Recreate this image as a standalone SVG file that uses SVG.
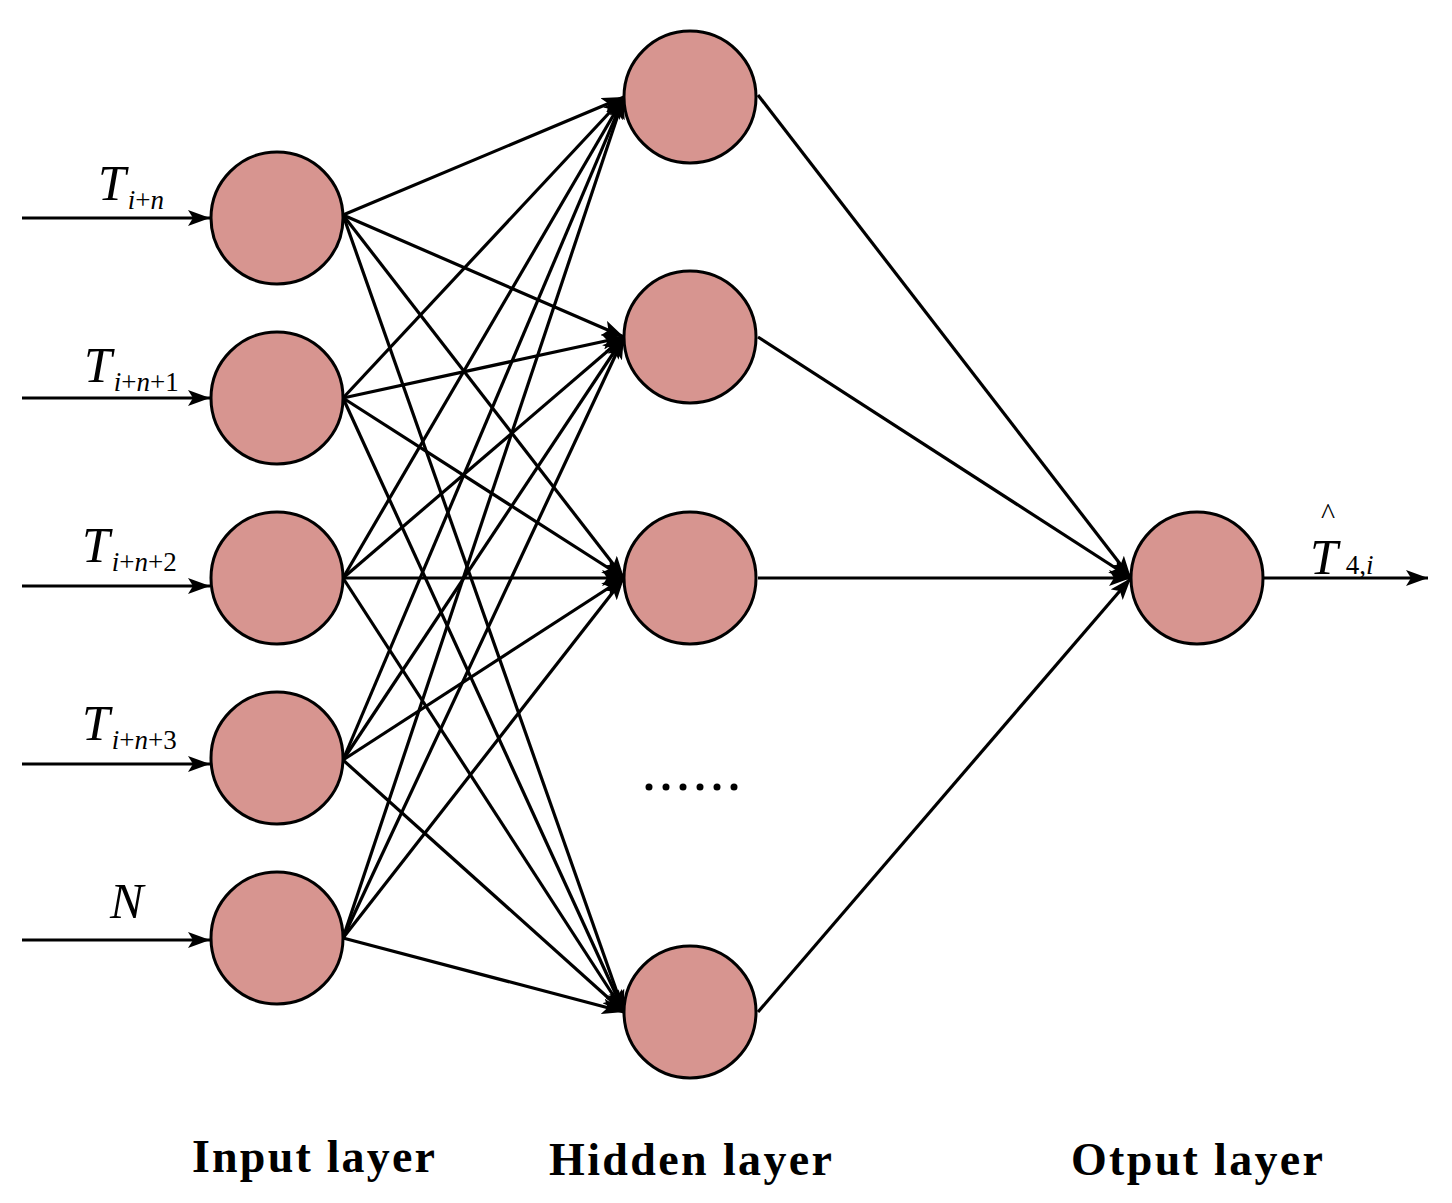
<svg xmlns="http://www.w3.org/2000/svg" width="1452" height="1203" viewBox="0 0 1452 1203">
<style>
.n{fill:#d79590;stroke:#000;stroke-width:3}
.e{stroke:#000;stroke-width:3.2;fill:none;marker-end:url(#a)}
.t{font-family:"Liberation Serif",serif;font-style:italic;font-size:50px}
.s{font-size:27px}
.b{font-family:"Liberation Serif",serif;font-weight:bold;font-size:46px}
</style>
<defs><marker id="a" markerWidth="24" markerHeight="16" refX="22" refY="8" orient="auto" markerUnits="userSpaceOnUse"><path d="M0,0 L22,8 L0,16 L5,8 Z" fill="#000"/></marker></defs>
<rect width="1452" height="1203" fill="#fff"/>
<g id="connectors">
<line class="e" x1="22" y1="218" x2="210" y2="218"/>
<line class="e" x1="22" y1="398" x2="210" y2="398"/>
<line class="e" x1="22" y1="586" x2="210" y2="586"/>
<line class="e" x1="22" y1="764" x2="210" y2="764"/>
<line class="e" x1="22" y1="940" x2="210" y2="940"/>
<g id="ih">
<line class="e" x1="343" y1="215" x2="624" y2="97"/><line class="e" x1="343" y1="215" x2="624" y2="337"/><line class="e" x1="343" y1="215" x2="624" y2="578"/><line class="e" x1="343" y1="215" x2="624" y2="1012"/>
<line class="e" x1="343" y1="398" x2="624" y2="97"/><line class="e" x1="343" y1="398" x2="624" y2="337"/><line class="e" x1="343" y1="398" x2="624" y2="578"/><line class="e" x1="343" y1="398" x2="624" y2="1012"/>
<line class="e" x1="343" y1="578" x2="624" y2="97"/><line class="e" x1="343" y1="578" x2="624" y2="337"/><line class="e" x1="343" y1="578" x2="624" y2="578"/><line class="e" x1="343" y1="578" x2="624" y2="1012"/>
<line class="e" x1="343" y1="760" x2="624" y2="97"/><line class="e" x1="343" y1="760" x2="624" y2="337"/><line class="e" x1="343" y1="760" x2="624" y2="578"/><line class="e" x1="343" y1="760" x2="624" y2="1012"/>
<line class="e" x1="343" y1="938" x2="624" y2="97"/><line class="e" x1="343" y1="938" x2="624" y2="337"/><line class="e" x1="343" y1="938" x2="624" y2="578"/><line class="e" x1="343" y1="938" x2="624" y2="1012"/>
</g>
<line class="e" x1="758" y1="95" x2="1131" y2="578"/>
<line class="e" x1="758" y1="337" x2="1131" y2="578"/>
<line class="e" x1="758" y1="578" x2="1131" y2="578"/>
<line class="e" x1="758" y1="1012" x2="1131" y2="578"/>
<line class="e" x1="1263" y1="578" x2="1428" y2="578"/>
</g>
<g id="in1"><circle class="n" cx="277" cy="218" r="66"/></g>
<g id="in2"><circle class="n" cx="277" cy="398" r="66"/></g>
<g id="in3"><circle class="n" cx="277" cy="578" r="66"/></g>
<g id="in4"><circle class="n" cx="277" cy="758" r="66"/></g>
<g id="in5"><circle class="n" cx="277" cy="938" r="66"/></g>
<g id="h1"><circle class="n" cx="690" cy="97" r="66"/></g>
<g id="h2"><circle class="n" cx="690" cy="337" r="66"/></g>
<g id="h3"><circle class="n" cx="690" cy="578" r="66"/></g>
<g id="h4"><circle class="n" cx="690" cy="1012" r="66"/></g>
<g id="out"><circle class="n" cx="1197" cy="578" r="66"/></g>
<g id="labels">
<text class="t" x="98" y="200">T<tspan class="s" dx="2" dy="9">i</tspan><tspan class="s" font-style="normal">+</tspan><tspan class="s">n</tspan></text>
<text class="t" x="84" y="382">T<tspan class="s" dx="2" dy="9">i</tspan><tspan class="s" font-style="normal">+</tspan><tspan class="s">n</tspan><tspan class="s" font-style="normal">+1</tspan></text>
<text class="t" x="82" y="562">T<tspan class="s" dx="2" dy="9">i</tspan><tspan class="s" font-style="normal">+</tspan><tspan class="s">n</tspan><tspan class="s" font-style="normal">+2</tspan></text>
<text class="t" x="82" y="740">T<tspan class="s" dx="2" dy="9">i</tspan><tspan class="s" font-style="normal">+</tspan><tspan class="s">n</tspan><tspan class="s" font-style="normal">+3</tspan></text>
<text class="t" x="110" y="918">N</text>
<text class="t" x="1310" y="574">T<tspan class="s" dx="8" font-style="normal">4,</tspan><tspan class="s">i</tspan></text>
<text x="1321" y="524" font-family="Liberation Serif,serif" font-size="30">^</text>
<g fill="#000"><circle cx="649" cy="787" r="3.5"/><circle cx="666" cy="787" r="3.5"/><circle cx="683" cy="787" r="3.5"/><circle cx="700" cy="787" r="3.5"/><circle cx="717" cy="787" r="3.5"/><circle cx="734" cy="787" r="3.5"/></g>
<text class="b" x="192" y="1172" textLength="243">Input layer</text>
<text class="b" x="549" y="1175" textLength="283">Hidden layer</text>
<text class="b" x="1071" y="1175" textLength="252">Otput layer</text>
</g>
</svg>
